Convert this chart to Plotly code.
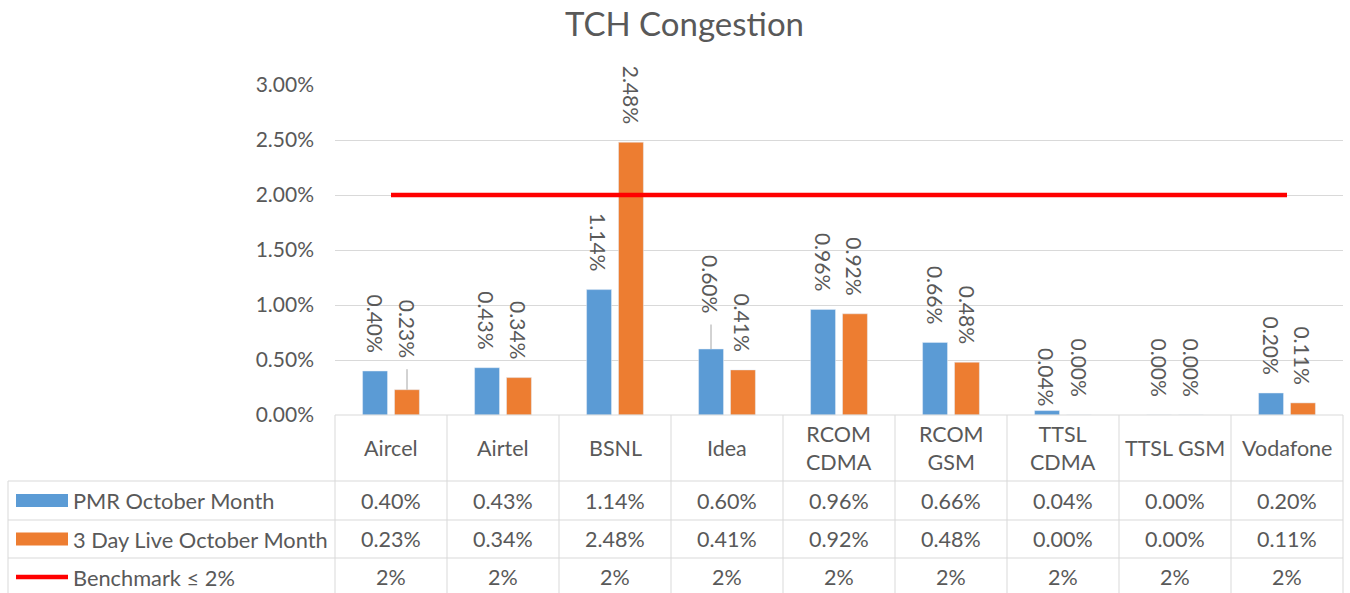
import plotly.graph_objects as go

# ---------------- data ----------------
categories = ["Aircel", "Airtel", "BSNL", "Idea", "RCOM CDMA", "RCOM GSM",
              "TTSL CDMA", "TTSL GSM", "Vodafone"]
header_labels = ["Aircel", "Airtel", "BSNL", "Idea", "RCOM<br>CDMA", "RCOM<br>GSM",
                 "TTSL<br>CDMA", "TTSL GSM", "Vodafone"]
pmr_october = [0.0040, 0.0043, 0.0114, 0.0060, 0.0096, 0.0066, 0.0004, 0.0000, 0.0020]
live_october = [0.0023, 0.0034, 0.0248, 0.0041, 0.0092, 0.0048, 0.0000, 0.0000, 0.0011]
benchmark = [0.02, 0.02, 0.02, 0.02, 0.02, 0.02, 0.02, 0.02, 0.02]
series_names = ["PMR October Month", "3 Day Live October Month", "Benchmark \u2264 2%"]
y_ticks = [0.0, 0.005, 0.01, 0.015, 0.02, 0.025, 0.03]

# ---------------- style ----------------
W, H = 1350, 593
L, R, T, B = 335, 7, 85, 178
PW, PH = W - L - R, H - T - B
FONT = "Lato"
TXT = "#595959"
GRID = "#d9d9d9"
BLUE, ORANGE, RED = "#5B9BD5", "#ED7D31", "#FF0000"
FS = 21
FS_TABLE = 21.5
FS_LEGEND = 21.8
LABEL_GAP = 16.5
BAR_SHIFT = 16
# manual label nudges (pixels, positive = further up), as in the original
label_nudge = {(1, 0): 13.5, (0, 3): 17.5, (0, 6): -14}
leaders = {(1, 0): 22, (0, 3): 26}


def px(xp):
    return (xp - L) / PW


def py(yp):
    return (T + PH - yp) / PH


idx = list(range(len(categories)))

fig = go.Figure()
fig.add_trace(go.Bar(x=idx, y=pmr_october, name=series_names[0], marker_color=BLUE,
                     hovertext=categories))
fig.add_trace(go.Bar(x=idx, y=live_october, name=series_names[1], marker_color=ORANGE,
                     hovertext=categories))
fig.add_trace(go.Scatter(x=idx, y=benchmark, name=series_names[2], mode="lines",
                         line=dict(color=RED, width=4.5), hovertext=categories))

annotations = []
shapes = []

# data labels
for s, (vals, sh) in enumerate([(pmr_october, -BAR_SHIFT), (live_october, BAR_SHIFT)]):
    for i, v in enumerate(vals):
        annotations.append(dict(
            x=i, y=v, xref="x", yref="y", text=f"{v:.2%}", textangle=90,
            showarrow=False, xanchor="center", yanchor="bottom",
            xshift=sh, yshift=LABEL_GAP + label_nudge.get((s, i), 0),
            font=dict(family=FONT, size=FS, color=TXT)))
        if (s, i) in leaders:
            annotations.append(dict(
                x=i, y=v, xref="x", yref="y", text="", showarrow=True,
                ax=0, ay=-leaders[(s, i)], arrowhead=0, arrowwidth=1,
                arrowcolor="#a6a6a6", xshift=sh, standoff=0, startstandoff=0))

# data table
cell_w = PW / len(categories)
row_lines = [481, 520, 558, 596]
for k in range(len(categories) + 1):
    xx = L + k * cell_w
    shapes.append(dict(type="line", xref="paper", yref="paper", x0=px(xx), x1=px(xx),
                       y0=py(T + PH), y1=py(H + 5), line=dict(color=GRID, width=1)))
shapes.append(dict(type="line", xref="paper", yref="paper", x0=px(8), x1=px(8),
                   y0=py(row_lines[0]), y1=py(H + 5), line=dict(color=GRID, width=1)))
shapes.append(dict(type="line", xref="paper", yref="paper", x0=px(L), x1=px(L + PW),
                   y0=py(T + PH), y1=py(T + PH), line=dict(color=GRID, width=1)))
for yl in row_lines:
    shapes.append(dict(type="line", xref="paper", yref="paper", x0=px(8), x1=px(L + PW),
                       y0=py(yl), y1=py(yl), line=dict(color=GRID, width=1)))

row_vals = [
    [f"{v:.2%}" for v in pmr_october],
    [f"{v:.2%}" for v in live_october],
    [f"{v:.0%}" for v in benchmark],
]
for i, lab in enumerate(header_labels):
    cx = L + (i + 0.5) * cell_w
    annotations.append(dict(x=px(cx), y=py(448), xref="paper", yref="paper", text=lab,
                            showarrow=False, xanchor="center", yanchor="middle",
                            font=dict(family=FONT, size=FS_TABLE, color=TXT)))
    for r, row in enumerate(row_vals):
        cy = (row_lines[r] + row_lines[r + 1]) / 2
        annotations.append(dict(x=px(cx), y=py(cy), xref="paper", yref="paper",
                                text=row[i], showarrow=False, xanchor="center",
                                yanchor="middle",
                                font=dict(family=FONT, size=FS_TABLE, color=TXT)))

# legend keys inside table
for r, name in enumerate(series_names):
    cy = (row_lines[r] + row_lines[r + 1]) / 2
    annotations.append(dict(x=px(71), y=py(cy), xref="paper", yref="paper", text=name,
                            showarrow=False, xanchor="left", yanchor="middle",
                            font=dict(family=FONT, size=FS_LEGEND, color=TXT)))
    if r < 2:
        shapes.append(dict(type="rect", xref="paper", yref="paper", x0=px(16), x1=px(68),
                           y0=py(cy - 6.5), y1=py(cy + 6.5),
                           fillcolor=[BLUE, ORANGE][r], line=dict(width=0)))
    else:
        shapes.append(dict(type="line", xref="paper", yref="paper", x0=px(16), x1=px(68),
                           y0=py(cy), y1=py(cy), line=dict(color=RED, width=4.5)))

fig.update_layout(
    width=W, height=H,
    margin=dict(l=L, r=R, t=T, b=B),
    paper_bgcolor="white", plot_bgcolor="white",
    showlegend=False,
    barmode="group", bargap=0.43, bargroupgap=0.22,
    title=dict(text="TCH Congestion", x=684.5 / W, xanchor="center", xref="container",
               y=1 - 24 / H, yanchor="middle", yref="container",
               font=dict(family=FONT, size=33, color=TXT)),
    font=dict(family=FONT, size=FS, color=TXT),
    xaxis=dict(range=[-0.5, len(categories) - 0.5], showticklabels=False, showgrid=False,
               zeroline=False, showline=False, fixedrange=True),
    yaxis=dict(range=[0, 0.03], tickvals=y_ticks, tickformat=".2%", showgrid=True,
               gridcolor=GRID, gridwidth=1, zeroline=False, showline=False, ticks="",
               ticklabelstandoff=20, tickfont=dict(family=FONT, size=FS, color=TXT)),
    annotations=annotations,
    shapes=shapes,
)

fig.write_html(
    "out.html",
    config={"displayModeBar": False},
    post_script="document.body.style.margin='0';document.body.style.overflow='hidden';",
)
